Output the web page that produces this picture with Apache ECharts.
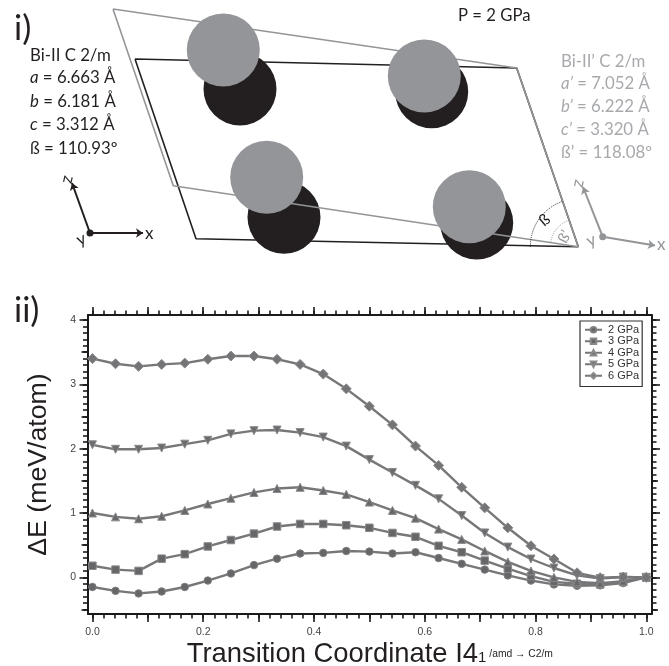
<!DOCTYPE html>
<html><head><meta charset="utf-8">
<style>html,body{margin:0;padding:0;background:#fff}#c{width:669px;height:666px}</style>
<script src="https://cdn.jsdelivr.net/npm/echarts@6/dist/echarts.min.js"></script>
</head><body><div id="c"></div>
<script>
const coord=[0,0.0417,0.0833,0.125,0.1667,0.2083,0.25,0.2917,0.3333,0.375,0.4167,0.4583,0.5,0.5417,0.5833,0.625,0.6667,0.7083,0.75,0.7917,0.8333,0.875,0.9167,0.9583,1];
const gpa2=[-0.15,-0.21,-0.25,-0.22,-0.15,-0.05,0.06,0.19,0.29,0.37,0.38,0.41,0.40,0.37,0.39,0.30,0.21,0.12,0.03,-0.05,-0.11,-0.13,-0.125,-0.09,0];
const gpa3=[0.18,0.12,0.10,0.29,0.36,0.48,0.58,0.68,0.79,0.83,0.83,0.81,0.77,0.69,0.63,0.49,0.39,0.26,0.135,0.02,-0.07,-0.10,-0.11,-0.07,0];
const gpa4=[1.0,0.94,0.91,0.95,1.04,1.14,1.23,1.32,1.38,1.40,1.35,1.29,1.17,1.04,0.92,0.75,0.59,0.41,0.24,0.10,0,-0.07,-0.09,-0.06,0];
const gpa5=[2.06,1.99,1.99,2.01,2.07,2.13,2.23,2.28,2.29,2.25,2.18,2.04,1.83,1.63,1.43,1.22,0.96,0.69,0.47,0.285,0.145,0.03,-0.02,0.005,0];
const gpa6=[3.40,3.32,3.28,3.31,3.33,3.39,3.44,3.44,3.39,3.31,3.16,2.93,2.66,2.37,2.04,1.74,1.40,1.08,0.77,0.49,0.285,0.07,-0.005,0.005,0];
const legendNames=['2 GPa','3 GPa','4 GPa','5 GPa','6 GPa'];
const xMajor=[0,0.1,0.2,0.3,0.4,0.5,0.6,0.7,0.8,0.9,1.0];
const xLabels=[0,0.2,0.4,0.6,0.8,1.0];
const yLabels=[0,1,2,3,4];
const yMid=[-0.5,0.5,1.5,2.5,3.5];
// Crystal-cell schematic, in picture units
const blackCell=[[135,59],[516.7,68],[578.3,246.7],[196,238.7],[135,59]];
const grayCell=[[113,9],[516.7,68],[578.3,246.7],[173.3,185.7],[113,9]];
const blackAtoms=[[240,89],[284,217.3],[431.7,91.7],[476.7,223]];
const grayAtoms=[[223.3,50],[266.7,177.3],[424.3,76],[469.3,206.7]];
const blackAxes=[[[90,233],[143,233]],[[90,233],[72,183]]];
const grayAxes=[[[602.7,236.7],[655,245.5]],[[602.7,236.7],[583,187]]];
const leftLines=['Bi-II C 2/m','{i|a} = 6.663 Å','{i|b} = 6.181 Å','{i|c} = 3.312 Å','ß = 110.93º'];
const rightLines=['Bi-II’ C 2/m','{i|a’} = 7.052 Å','{i|b’} = 6.222 Å','{i|c’} = 3.320 Å','ß’ = 118.08º'];
const leftY=[56,78,102,125,149];
const rightY=[62,84,107,130,153];

const BLACK='#231f20',GRAY='#939598',TXT='#a7a9ac',F='Lato, "Open Sans", sans-serif',H='"Liberation Sans", Arial, sans-serif';
const xR=[-0.008,1.0094], yR=[-0.57,4.078];
function steps(a,b,s){const o=[];const n=Math.round((b-a)/s);for(let i=0;i<=n;i++)o.push(+(a+i*s).toFixed(3));return o;}
const xMinor=steps(0,1,0.02), yMinor=steps(-0.5,4,0.1);
function ax(pos,range,vals,len,line,labels,extra){
  return Object.assign({type:'value',position:pos,min:range[0],max:range[1],
    axisLine:{show:line,onZero:false,lineStyle:{color:'#1a1a1a',width:2}},
    axisTick:{show:true,customValues:vals,length:len,inside:false,lineStyle:{color:'#1a1a1a',width:1.6}},
    axisLabel:labels?{show:true,customValues:labels,margin:pos==='left'||pos==='right'?12:13,color:'#444',fontFamily:H,fontSize:10.5,
      formatter:(pos==='bottom'?(v=>v.toFixed(1)):(v=>String(v)))}:{show:false},
    splitLine:{show:false}},extra||{});
}
const xAxes=[
 ax('bottom',xR,xMajor,8,true,xLabels,{name:'Transition Coordinate I4{s|1}{t|/amd → C2/m}',nameLocation:'middle',nameGap:27,
   nameTextStyle:{fontFamily:H,fontSize:27.4,color:'#231f20',rich:{s:{fontFamily:H,fontSize:15,color:'#231f20',padding:[0,0,-7,0]},t:{fontFamily:H,fontSize:10.3,color:'#231f20',padding:[0,0,0,3]}}}}),
 ax('bottom',xR,xMinor,4.5,false),
 ax('top',xR,xMajor,8,true),
 ax('top',xR,xMinor,4.5,false),
 {type:'value',gridIndex:1,min:0,max:669,show:false}
];
const yAxes=[
 ax('left',yR,yLabels,8.5,true,yLabels,{name:'ΔE (meV/atom)',nameLocation:'middle',nameGap:36,nameTextStyle:{fontFamily:H,fontSize:26.7,color:'#231f20'}}),
 ax('left',yR,yMid,6.5,false),
 ax('left',yR,yMinor,5,false),
 ax('right',yR,yLabels,8.5,true),
 ax('right',yR,yMid,6.5,false),
 ax('right',yR,yMinor,5,false),
 {type:'value',gridIndex:1,min:0,max:666,inverse:true,show:false}
];
const D={xAxisIndex:4,yAxisIndex:6,silent:true};
const poly=(d,c,z)=>Object.assign({type:'line',data:d,showSymbol:false,symbol:'none',z:z,lineStyle:{color:c,width:1.6}},D);
const dots=(d,c,size,z)=>Object.assign({type:'scatter',data:d,symbolSize:size,z:z,itemStyle:{color:c,opacity:1}},D);
const arrows=(d,c)=>Object.assign({type:'lines',coordinateSystem:'cartesian2d',z:6,symbol:['none','arrow'],symbolSize:7,
  lineStyle:{color:c,width:2,opacity:1,curveness:0},data:d.map(p=>({coords:p}))},D);
const sers=[
 {d:gpa2,s:'circle',c:'#666668',b:'#808082',size:7.5},
 {d:gpa3,s:'rect',c:'#666668',b:'#8a8a8c',size:7.5},
 {d:gpa4,s:'triangle',c:'#68686a',b:'#8a8a8c',size:8},
 {d:gpa5,s:'triangle',c:'#6c6c6e',b:'#8a8a8c',size:8,rot:180},
 {d:gpa6,s:'diamond',c:'#747476',b:'#8c8c8e',size:10}
].map((o,i)=>({type:'line',name:legendNames[i],data:coord.map((x,j)=>[x,o.d[j]]),symbol:o.s,symbolSize:o.size,symbolRotate:o.rot||0,showSymbol:true,
  clip:false,z:10+i,lineStyle:{color:'#77777a',width:2.4},itemStyle:{color:o.c,borderColor:o.b,borderWidth:1}}));

const txt=(s,x,y,col,size,opt)=>Object.assign({type:'text',x:x,y:y,z:100,silent:true,style:{text:s,fill:col,font:size+'px '+F,verticalAlign:'middle',align:'left',
  rich:{i:{fill:col,font:'italic '+size+'px '+F}}}},opt||{});
const graphics=[
 txt('i)',14,29,BLACK,34),
 txt('ii)',14,311,BLACK,34),
 txt('P = 2 GPa',458,16,BLACK,16.7),
 ...leftLines.map((s,i)=>txt(s,30,leftY[i],BLACK,16.8)),
 ...rightLines.map((s,i)=>txt(s,561,rightY[i],TXT,16.8)),
 txt('z',66,183,BLACK,17,{rotation:1.35}),
 txt('y',77,241,BLACK,17,{rotation:0.4}),
 txt('x',145,234,BLACK,17),
 txt('z',577,187,GRAY,17,{rotation:1.35}),
 txt('y',587,242,GRAY,17,{rotation:0.4}),
 txt('x',657,245,GRAY,17),
 txt('ß',541,223,BLACK,16,{rotation:0.7}),
 txt('ß’',562,242,GRAY,15,{rotation:1.1}),
 {type:'arc',z:100,silent:true,shape:{cx:578.3,cy:246.7,r:48,startAngle:Math.PI,endAngle:Math.PI*1.395,clockwise:true},style:{stroke:BLACK,fill:null,lineWidth:1,lineDash:[1,1.2]}},
 {type:'arc',z:100,silent:true,shape:{cx:578.3,cy:246.7,r:28,startAngle:Math.PI*1.05,endAngle:Math.PI*1.395,clockwise:true},style:{stroke:GRAY,fill:null,lineWidth:1,lineDash:[1,1.2]}}
];
const chart=echarts.init(document.getElementById('c'),null,{renderer:'canvas',width:669,height:666});
chart.setOption({
 animation:false,backgroundColor:'#fff',
 grid:[{left:88,top:315,width:563.5,height:299,containLabel:false,outerBoundsMode:'none'},{left:0,top:0,width:669,height:666,outerBoundsMode:'none'}],
 xAxis:xAxes,yAxis:yAxes,
 legend:{data:legendNames,orient:'vertical',left:580,top:321,padding:[3,3,5,4],itemWidth:17,itemHeight:7,itemGap:0,
   backgroundColor:'#fff',borderColor:'#333',borderWidth:1.2,textStyle:{fontFamily:H,fontSize:11,lineHeight:11.5,color:'#333',padding:[0,0,0,1]},selectedMode:false},
 series:[...sers,poly(blackCell,BLACK,2),dots(blackAtoms,BLACK,73,3),poly(grayCell,GRAY,4),dots(grayAtoms,GRAY,73,5),
   arrows(blackAxes,BLACK),arrows(grayAxes,GRAY),dots([blackAxes[0][0]],BLACK,7,7),dots([grayAxes[0][0]],GRAY,7,7)],
 graphic:graphics
});
</script></body></html>
